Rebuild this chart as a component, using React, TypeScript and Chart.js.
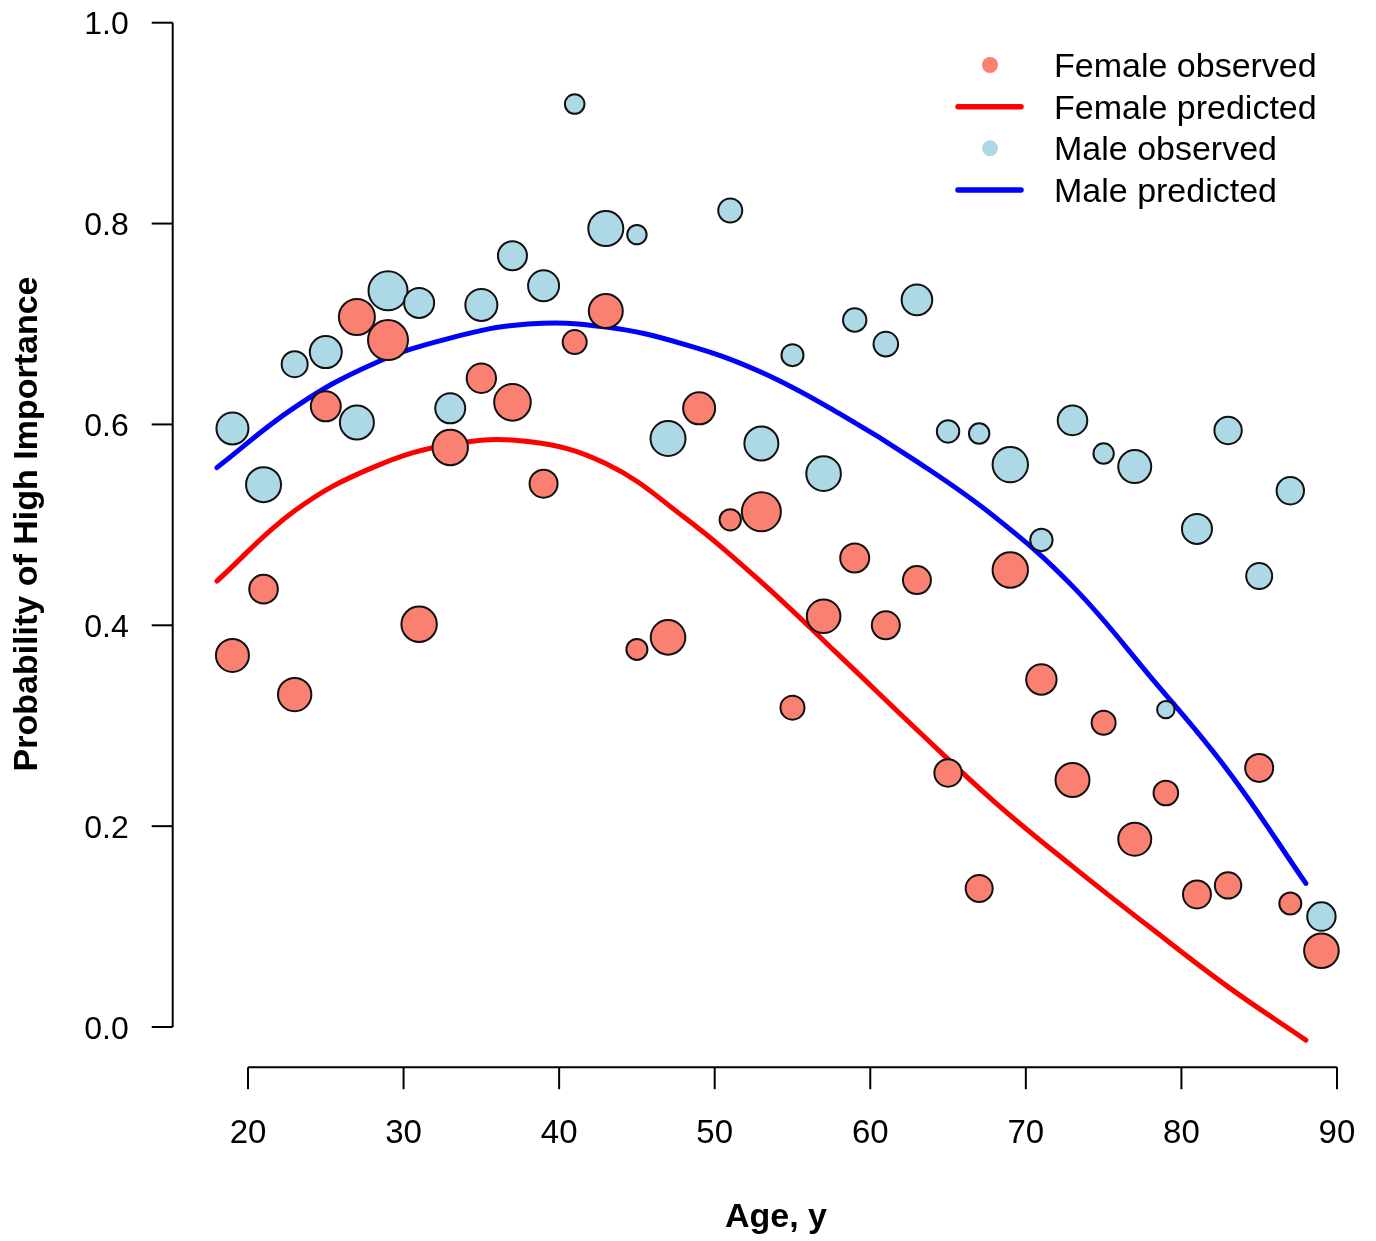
import React, { useEffect, useRef } from "react";
import { Chart, registerables } from "chart.js";

Chart.register(...registerables);

// ---- Data ----
const ages = [19, 21, 23, 25, 27, 29, 31, 33, 35, 37, 39, 41, 43, 45, 47, 49, 51, 53, 55, 57, 59, 61, 63, 65, 67, 69, 71, 73, 75, 77, 79, 81, 83, 85, 87, 89];

const maleObserved = [0.596, 0.540, 0.660, 0.672, 0.602, 0.733, 0.721, 0.616, 0.719, 0.768, 0.738, 0.919, 0.795, 0.789, 0.586, null, 0.813, 0.581, 0.669, 0.551, 0.704, 0.680, 0.724, 0.593, 0.591, 0.560, 0.485, 0.604, 0.571, 0.558, 0.316, 0.496, 0.594, 0.449, 0.534, 0.110];
const maleWeight = [17, 18.5, 14, 17, 18, 20.5, 16, 16, 17, 15.5, 16.5, 10.8, 18.5, 10.7, 18.5, null, 13, 18, 12, 18.3, 12.7, 13.3, 16.3, 12.2, 11.2, 18.7, 12.2, 15.8, 11.2, 17.5, 9.7, 16, 14.7, 14, 14.7, 15.2];

const femaleObserved = [0.370, 0.436, 0.331, 0.618, 0.707, 0.684, 0.401, 0.577, 0.646, 0.622, 0.541, 0.682, 0.713, 0.376, 0.388, 0.616, 0.505, 0.513, 0.318, 0.409, 0.467, 0.400, 0.445, 0.253, 0.138, 0.455, 0.346, 0.246, 0.303, 0.187, 0.233, 0.132, 0.141, 0.258, 0.123, 0.076];
const femaleWeight = [17.5, 15.3, 17.7, 16, 19, 21, 18.7, 18.7, 15.7, 19.3, 15, 13, 18, 11.5, 18.3, 17, 11.7, 20.5, 13, 17.8, 15.5, 15, 15, 14.7, 14.5, 18.7, 16.2, 18, 13, 17.5, 13.3, 15, 14.2, 15, 12, 18.3];

const predAges = [18, 23, 28, 33, 38, 43, 48, 53, 58, 63, 68, 73, 78, 83, 88];
const malePredicted = [0.557, 0.617, 0.660, 0.686, 0.700, 0.697, 0.680, 0.652, 0.611, 0.563, 0.508, 0.439, 0.349, 0.255, 0.143];
const femalePredicted = [0.444, 0.514, 0.557, 0.580, 0.583, 0.561, 0.508, 0.443, 0.370, 0.296, 0.224, 0.160, 0.099, 0.040, -0.013];

const yTicks = [0, 0.2, 0.4, 0.6, 0.8, 1.0];
const yTickLabels = ["0.0", "0.2", "0.4", "0.6", "0.8", "1.0"];
const xTicks = [20, 30, 40, 50, 60, 70, 80, 90];

const legendLabels = ["Female observed", "Female predicted", "Male observed", "Male predicted"];

// ---- Styles ----
const FEMALE_FILL = "#FA8072";
const MALE_FILL = "#ADD8E6";
const FEMALE_LINE = "#FF0000";
const MALE_LINE = "#0000FF";
const FONT = "'Liberation Sans', Arial, sans-serif";

const axesPlugin = {
  id: "rAxes",
  afterDraw(chart: any) {
    const ctx = chart.ctx;
    const xs = chart.scales.x;
    const ys = chart.scales.y;
    ctx.save();
    ctx.strokeStyle = "#000";
    ctx.fillStyle = "#000";
    ctx.lineWidth = 2;
    ctx.lineCap = "butt";

    // Y axis
    const yAxisX = chart.chartArea.left;
    ctx.beginPath();
    ctx.moveTo(yAxisX, ys.getPixelForValue(yTicks[0]));
    ctx.lineTo(yAxisX, ys.getPixelForValue(yTicks[yTicks.length - 1]));
    ctx.stroke();
    ctx.font = `32px ${FONT}`;
    ctx.textAlign = "right";
    ctx.textBaseline = "alphabetic";
    yTicks.forEach((v, i) => {
      const py = ys.getPixelForValue(v);
      ctx.beginPath();
      ctx.moveTo(yAxisX, py);
      ctx.lineTo(yAxisX - 21, py);
      ctx.stroke();
      ctx.fillText(yTickLabels[i], yAxisX - 44, py + 11.5);
    });

    // X axis
    const xAxisY = chart.chartArea.bottom;
    ctx.beginPath();
    ctx.moveTo(xs.getPixelForValue(xTicks[0]), xAxisY);
    ctx.lineTo(xs.getPixelForValue(xTicks[xTicks.length - 1]), xAxisY);
    ctx.stroke();
    ctx.font = `33px ${FONT}`;
    ctx.textAlign = "center";
    xTicks.forEach((v) => {
      const px = xs.getPixelForValue(v);
      ctx.beginPath();
      ctx.moveTo(px, xAxisY);
      ctx.lineTo(px, xAxisY + 22);
      ctx.stroke();
      ctx.fillText(String(v), px, xAxisY + 76);
    });

    // Axis titles
    ctx.font = `bold 34px ${FONT}`;
    ctx.textAlign = "center";
    ctx.fillText("Age, y", 776, 1227);
    ctx.save();
    ctx.translate(37, 524);
    ctx.rotate(-Math.PI / 2);
    ctx.fillText("Probability of High Importance", 0, 0);
    ctx.restore();

    // Legend
    const rowY = [65, 106.7, 148.3, 190];
    const symX = 990;
    ctx.font = `34px ${FONT}`;
    ctx.textAlign = "left";
    legendLabels.forEach((label, i) => {
      const cy = rowY[i];
      if (i === 0 || i === 2) {
        ctx.fillStyle = i === 0 ? FEMALE_FILL : MALE_FILL;
        ctx.beginPath();
        ctx.arc(symX, cy, 8, 0, Math.PI * 2);
        ctx.fill();
      } else {
        ctx.strokeStyle = i === 1 ? FEMALE_LINE : MALE_LINE;
        ctx.lineWidth = 5.5;
        ctx.lineCap = "round";
        ctx.beginPath();
        ctx.moveTo(958, cy);
        ctx.lineTo(1021, cy);
        ctx.stroke();
      }
      ctx.fillStyle = "#000";
      ctx.fillText(label, 1054, cy + 12);
    });
    ctx.restore();
  },
};

export default function App() {
  const canvasRef = useRef<HTMLCanvasElement | null>(null);

  useEffect(() => {
    document.body.style.margin = "0";
    const canvas = canvasRef.current;
    if (!canvas) return;

    const bubbles: any[] = [];
    const colors: string[] = [];
    ages.forEach((a, i) => {
      if (maleObserved[i] !== null) {
        bubbles.push({ x: a, y: maleObserved[i], r: (maleWeight[i] as number) - 1 });
        colors.push(MALE_FILL);
      }
      if (femaleObserved[i] !== null) {
        bubbles.push({ x: a, y: femaleObserved[i], r: femaleWeight[i] - 1 });
        colors.push(FEMALE_FILL);
      }
    });

    const chart = new Chart(canvas, {
      type: "bubble",
      data: {
        datasets: [
          {
            type: "bubble",
            label: "Observed",
            data: bubbles,
            backgroundColor: colors,
            borderColor: "#111",
            borderWidth: 2,
            hoverRadius: 0,
            hoverBorderWidth: 2,
            clip: false as any,
            order: 0,
          } as any,
          {
            type: "line",
            label: "Female predicted",
            data: predAges.map((a, i) => ({ x: a, y: femalePredicted[i] })),
            borderColor: FEMALE_LINE,
            borderWidth: 5,
            pointRadius: 0,
            tension: 0.4,
            borderCapStyle: "round",
            fill: false,
            clip: false as any,
            order: 1,
          } as any,
          {
            type: "line",
            label: "Male predicted",
            data: predAges.map((a, i) => ({ x: a, y: malePredicted[i] })),
            borderColor: MALE_LINE,
            borderWidth: 5,
            pointRadius: 0,
            tension: 0.4,
            borderCapStyle: "round",
            fill: false,
            clip: false as any,
            order: 1,
          } as any,
        ],
      },
      options: {
        responsive: false,
        animation: false,
        devicePixelRatio: 1,
        layout: {
          autoPadding: false,
          padding: { left: 172.7, right: 10.4, top: 22.7, bottom: 173.8 },
        } as any,
        plugins: {
          legend: { display: false },
          tooltip: { enabled: false },
        },
        events: [],
        scales: {
          x: { type: "linear", display: false, min: 15.16, max: 91.84 },
          y: { type: "linear", display: false, min: -0.04, max: 1.0 },
        },
      },
      plugins: [axesPlugin],
    });

    return () => chart.destroy();
  }, []);

  return (
    <div style={{ width: 1376, height: 1241, background: "#fff" }}>
      <canvas ref={canvasRef} width={1376} height={1241} style={{ display: "block" }} />
    </div>
  );
}
